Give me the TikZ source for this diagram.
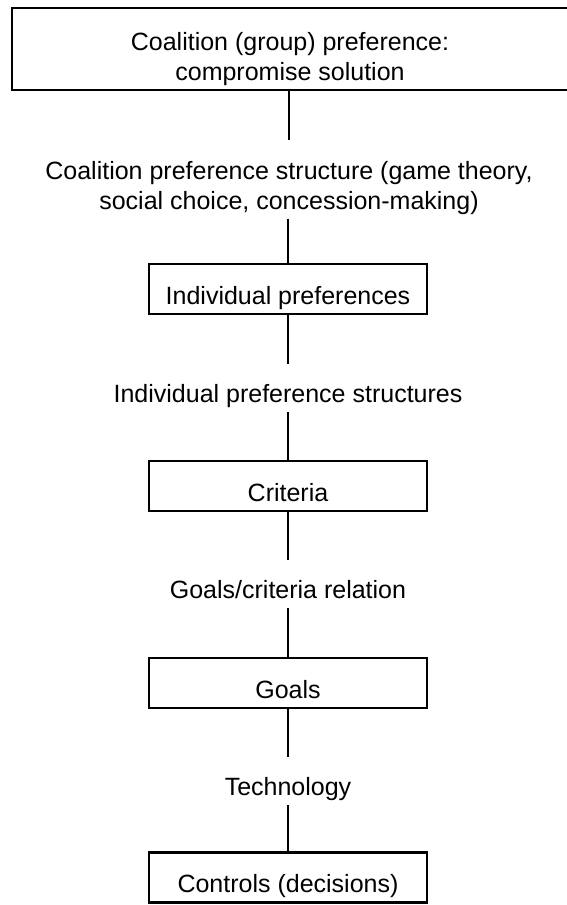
\documentclass[tikz,border=0pt]{standalone}
\usepackage{fontspec}
\setmainfont{Liberation Sans}

\begin{document}
\begin{tikzpicture}[x=1pt,y=-1pt,
  every node/.style={font=\fontsize{25}{30}\selectfont},
  topbox/.style={draw, line width=2.6pt, minimum width=560pt, minimum height=82pt, inner sep=0pt},
  levelbox/.style={draw, line width=2.6pt, minimum width=278pt, minimum height=50pt,
    inner sep=0pt, text height=31pt, text depth=1pt},
  lbl/.style={inner sep=0pt, anchor=base, text height=18pt, text depth=5pt},
  lbltwo/.style={inner sep=0pt, anchor=north, align=center},
  link/.style={line width=2pt}]

  \useasboundingbox (0,0) rectangle (567,905);

  %% group level
  \node[topbox] (coal) at (292,49) {};
  \node[lbltwo] (coaltxt) at (290,32) {Coalition (group) preference:\\compromise solution};
  \node[lbltwo] (cps) at (289,161) {Coalition preference structure (game theory,\\social choice, concession-making)};

  %% individual level
  \node[levelbox] (indiv) at (288,289) {Individual preferences};
  \node[lbl] (ips) at (288,402) {Individual preference structures};

  %% criteria and goals
  \node[levelbox] (crit) at (288,486) {Criteria};
  \node[lbl] (gcr) at (288,598) {Goals/criteria relation};
  \node[levelbox] (goals) at (288,683) {Goals};

  %% decisions
  \node[lbl] (tech) at (288,795) {Technology};
  \node[levelbox] (ctrl) at (288,877.5) {Controls (decisions)};

  %% links
  \draw[link] (cps.north |- coal.south) -- ([yshift=21pt]cps.north);
  \draw[link] ([yshift=-4pt]cps.south -| indiv.north) -- (indiv.north);
  \draw[link] (indiv.south) -- ([yshift=20pt]ips.north);
  \draw[link] ([yshift=-5pt]ips.south) -- (crit.north);
  \draw[link] (crit.south) -- ([yshift=20pt]gcr.north);
  \draw[link] ([yshift=-5pt]gcr.south) -- (goals.north);
  \draw[link] (goals.south) -- ([yshift=20pt]tech.north);
  \draw[link] ([yshift=-5pt]tech.south) -- (ctrl.north);

\end{tikzpicture}
\end{document}
